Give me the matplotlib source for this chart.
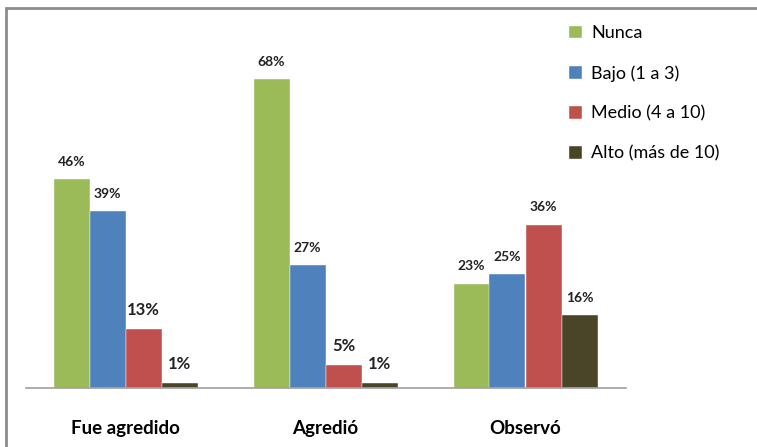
import matplotlib.pyplot as plt
import numpy as np
from matplotlib.patches import Rectangle

plt.rcParams['font.family'] = ['Lato', 'DejaVu Sans']

# Data
categories = ['Fue agredido', 'Agredió', 'Observó']
series = ['Nunca', 'Bajo (1 a 3)', 'Medio (4 a 10)', 'Alto (más de 10)']
nunca = [46, 68, 23]
bajo = [39, 27, 25]
medio = [13, 5, 36]
alto = [1, 1, 16]
values = [nunca, bajo, medio, alto]
colors = ['#9BBB59', '#4F81BD', '#C0504D', '#4A4529']

fig = plt.figure(figsize=(7.57, 4.47), dpi=100)
ax = fig.add_axes([25.5 / 757, 1 - 388 / 447, 600 / 757, (388 - 22.4) / 447])

x = np.arange(len(categories))
width = 0.18
for i, (vals, name, col) in enumerate(zip(values, series, colors)):
    pos = x + (i - 1.5) * width
    ax.bar(pos, vals, width, color=col, label=name, edgecolor='white', linewidth=0.3)
    for j, (p, v) in enumerate(zip(pos, vals)):
        # smaller bars in the first two groups have larger labels
        big = (i >= 2 and j < 2)
        ax.annotate(f'{v}%', (p, v), xytext=(0, 8), textcoords='offset points',
                    ha='center', va='bottom', fontweight='bold',
                    fontsize=12 if big else 10, color='#222222')

ax.set_xlim(-0.5, 2.5)
ax.set_ylim(0, 80.5)
ax.set_yticks([])
ax.set_xticks(x)
ax.set_xticklabels(categories, fontweight='bold', fontsize=13.5)
ax.tick_params(axis='x', length=0, pad=23)
for s in ['top', 'right', 'left']:
    ax.spines[s].set_visible(False)
ax.spines['bottom'].set_color('#A0A0A0')
ax.spines['bottom'].set_linewidth(1.2)

leg = fig.legend(loc='upper left', bbox_to_anchor=(553 / 757, 1 - 9 / 447),
                 frameon=False, fontsize=13, handlelength=0.7, handleheight=0.7,
                 handletextpad=0.5, labelspacing=1.32)

# outer frame
fig.patches.append(Rectangle((6 / 757, -0.1), 2, 1 - 8 / 447 + 0.1,
                             transform=fig.transFigure, fill=False,
                             edgecolor='#8C8C8C', linewidth=2))

fig.savefig('out.png', dpi=100)
